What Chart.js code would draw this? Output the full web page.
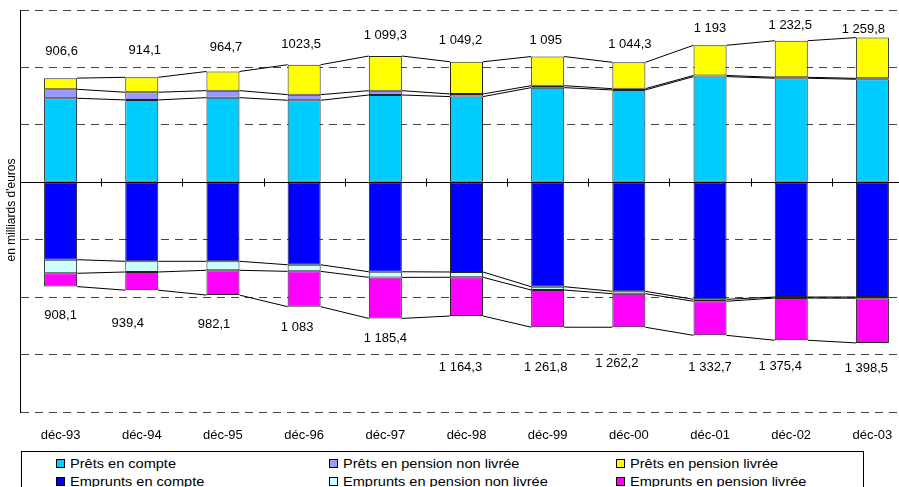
<!DOCTYPE html>
<html>
<head>
<meta charset="utf-8">
<script src="https://cdn.jsdelivr.net/npm/chart.js@4"></script>
<style>
  html, body { margin: 0; padding: 0; background: #fff; overflow: hidden; }
  #wrap { position: relative; width: 899px; height: 487px; overflow: hidden; }
  #myChart { position: absolute; left: 0; top: 0; }
  #legend {
    position: absolute; left: 21px; top: 451px; width: 841px; height: 60px;
    border: 1px solid #000; background: #fff;
    font: 13px "Liberation Sans", Arial, sans-serif; color: #000;
  }
  .item { position: absolute; display: flex; align-items: center; white-space: nowrap; height: 16px; }
  .swatch { width: 7px; height: 7px; border: 1px solid #000; margin-right: 5px; flex: none; }
  .txt { display: inline-block; transform: scaleX(1.12); transform-origin: left center; }
</style>
</head>
<body>
<div id="wrap">
  <canvas id="myChart" width="913" height="487"></canvas>
  <div id="legend"></div>
</div>
<script>
const categories = ["déc-93", "déc-94", "déc-95", "déc-96", "déc-97", "déc-98", "déc-99", "déc-00", "déc-01", "déc-02", "déc-03"];

// prêts (au-dessus de zéro)
const pretsCompte = [731.6, 717, 737, 714, 760, 746, 824, 804, 920, 906, 897];
const pretsPensionNonLivree = [78, 67, 61, 49, 37.5, 23, 17, 11, 10, 8, 8];
const pretsPensionLivree = [97, 130.1, 166.7, 260.5, 301.8, 280.2, 254, 229.3, 263, 318.5, 354.8];

// emprunts (en dessous de zéro)
const empruntsCompte = [674, 688, 688, 718, 779, 781, 909, 949, 1019, 999, 999];
const empruntsPensionNonLivree = [118.5, 93, 78, 57.5, 49, 46, 29, 21, 17, 9, 10];
const empruntsPensionLivree = [115.6, 158.4, 216.1, 307.5, 357.4, 337.3, 323.8, 292.2, 296.7, 367.4, 389.5];

const pretsTotals = ["906,6", "914,1", "964,7", "1023,5", "1 099,3", "1 049,2", "1 095", "1 044,3", "1 193", "1 232,5", "1 259,8"];
const empruntsTotals = ["908,1", "939,4", "982,1", "1 083", "1 185,4", "1 164,3", "1 261,8", "1 262,2", "1 332,7", "1 375,4", "1 398,5"];

// petits decalages des etiquettes (px), places a la main comme dans l'original
const pretsLabelDy = [27, 27, 24, 20, 21, 21, 16, 18, 17, 15, 8];
const pretsLabelDx = [1, 3, 3, -3, 0, -6, -2, 1, 0, -1, -9];
const empruntsLabelDy = [29, 33, 29, 21, 20, 51, 40, 36, 32, 26, 26];
const empruntsLabelDx = [0, -14, -9, -7, 0, -6, -2, -12, 0, -11, -6];

const FONT = '"Liberation Sans", Arial, sans-serif';

const series = [
  { label: "Prêts en compte", data: pretsCompte, color: "#00ccff", sign: 1 },
  { label: "Prêts en pension non livrée", data: pretsPensionNonLivree, color: "#9999ff", sign: 1 },
  { label: "Prêts en pension livrée", data: pretsPensionLivree, color: "#ffff00", sign: 1 },
  { label: "Emprunts en compte", data: empruntsCompte, color: "#0000ff", sign: -1 },
  { label: "Emprunts en pension non livrée", data: empruntsPensionNonLivree, color: "#ccffff", sign: -1 },
  { label: "Emprunts en pension livrée", data: empruntsPensionLivree, color: "#ff00ff", sign: -1 },
];

function cumulative(list, sign) {
  const levels = [];
  let run = categories.map(() => 0);
  list.forEach((arr) => {
    run = run.map((v, i) => v + sign * arr[i]);
    levels.push(run);
  });
  return levels;
}

const overlay = {
  id: "overlay",
  afterDatasetsDraw(chart) {
    const { ctx, chartArea, scales } = chart;
    const y = scales.y;
    const bars = chart.getDatasetMeta(0).data;
    const y0 = Math.round(y.getPixelForValue(0)) + 0.5;

    ctx.save();
    ctx.strokeStyle = "#000";
    ctx.lineWidth = 1;

    // lignes de series entre les barres
    const levels = cumulative([pretsCompte, pretsPensionNonLivree, pretsPensionLivree], 1)
      .concat(cumulative([empruntsCompte, empruntsPensionNonLivree, empruntsPensionLivree], -1));
    levels.forEach((lvl) => {
      ctx.beginPath();
      for (let i = 0; i < bars.length - 1; i++) {
        const a = bars[i], b = bars[i + 1];
        ctx.moveTo(a.x + a.width / 2, y.getPixelForValue(lvl[i]));
        ctx.lineTo(b.x - b.width / 2, y.getPixelForValue(lvl[i + 1]));
      }
      ctx.stroke();
    });

    // axe des abscisses au niveau zero
    ctx.beginPath();
    ctx.moveTo(chartArea.left, y0);
    ctx.lineTo(chartArea.right, y0);
    for (let i = 0; i < bars.length - 1; i++) {
      const tx = Math.round((bars[i].x + bars[i + 1].x) / 2) + 0.5;
      ctx.moveTo(tx, y0 - 4);
      ctx.lineTo(tx, y0 + 4);
    }
    ctx.stroke();

    // totaux
    ctx.fillStyle = "#000";
    ctx.font = "13px " + FONT;
    ctx.textAlign = "center";
    ctx.textBaseline = "middle";
    const topLvl = levels[2], botLvl = levels[5];
    bars.forEach((bar, i) => {
      ctx.fillText(pretsTotals[i], bar.x + pretsLabelDx[i], y.getPixelForValue(topLvl[i]) - pretsLabelDy[i]);
      ctx.fillText(empruntsTotals[i], bar.x + empruntsLabelDx[i], y.getPixelForValue(botLvl[i]) + empruntsLabelDy[i]);
    });

    // titre de l'axe
    ctx.font = "12px " + FONT;
    ctx.translate(12, 210);
    ctx.rotate(-Math.PI / 2);
    ctx.fillText("en milliards d'euros", 0, 0);
    ctx.restore();
  },
};

const ctx = document.querySelector("#myChart");

new Chart(ctx, {
  type: "bar",
  data: {
    labels: categories,
    datasets: series.map((s) => ({
      label: s.label,
      data: s.data.map((v) => s.sign * v),
      backgroundColor: s.color,
      borderColor: "#222",
      borderWidth: 1,
      borderSkipped: false,
      barPercentage: 0.407,
      categoryPercentage: 1,
      stack: "total",
    })),
  },
  options: {
    responsive: false,
    animation: false,
    devicePixelRatio: 1,
    layout: { padding: { top: 10, left: 0, right: 0, bottom: 0 } },
    plugins: { legend: { display: false }, tooltip: { enabled: false } },
    scales: {
      x: {
        stacked: true,
        grid: { display: false },
        border: { display: false },
        ticks: { color: "#000", font: { family: FONT, size: 13 }, padding: 8, maxRotation: 0, autoSkip: false },
        afterFit: (s) => { s.height = 75; },
      },
      y: {
        stacked: true,
        min: -2000,
        max: 1500,
        ticks: { display: false, stepSize: 500 },
        grid: {
          drawTicks: false,
          color: (c) => (c.tick && c.tick.value === 0 ? "rgba(0,0,0,0)" : "#444"),
        },
        border: { display: true, color: "#000", width: 1, dash: [8, 6] },
        afterFit: (s) => { s.width = 20; },
      },
    },
  },
  plugins: [overlay],
});

// legende
const legend = document.querySelector("#legend");
const cols = [34, 307, 594];
const rows = [3, 21];
series.forEach((s, i) => {
  const item = document.createElement("div");
  item.className = "item";
  item.style.left = cols[i % 3] + "px";
  item.style.top = rows[Math.floor(i / 3)] + "px";
  item.innerHTML = `<span class="swatch" style="background:${s.color}"></span><span class="txt">${s.label}</span>`;
  legend.appendChild(item);
});
</script>
</body>
</html>
